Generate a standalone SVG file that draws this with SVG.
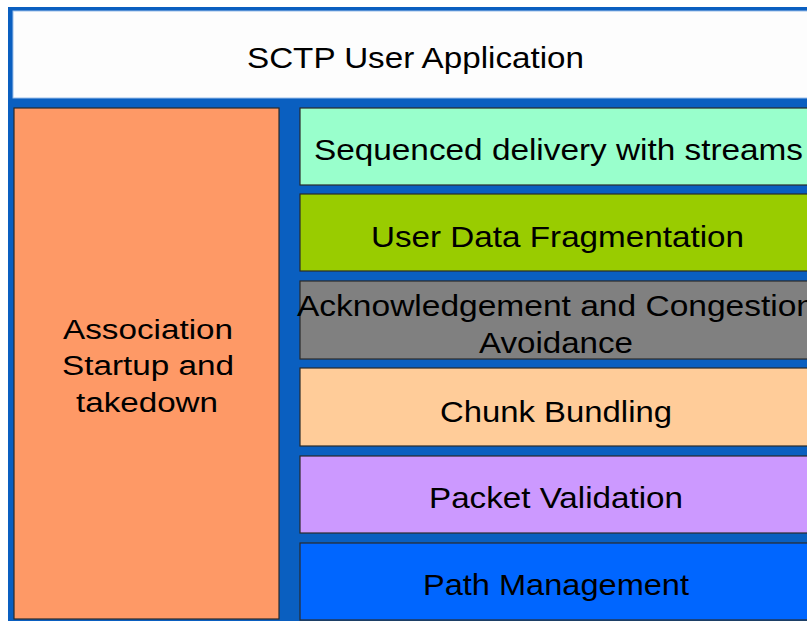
<svg xmlns="http://www.w3.org/2000/svg" width="807" height="621" viewBox="0 0 807 621">
  <style>
    .box { stroke: #2a2a2a; stroke-width: 1.2; }
    .lbl { font-family: "Liberation Sans", Arial, sans-serif; fill: #000; text-anchor: middle; }
    .big { font-size: 29px; }
    .side { font-size: 27px; }
  </style>
  <rect x="0" y="0" width="807" height="621" fill="#ffffff"/>
  <!-- blue frame -->
  <rect x="8" y="7" width="810" height="620" fill="#0A5FC0"/>

  <g id="app">
    <rect x="13" y="11" width="810" height="87" fill="#fdfdfd" stroke="#9cc0ea" stroke-width="1"/>
    <text class="lbl big" x="415.5" y="68" textLength="337" lengthAdjust="spacingAndGlyphs">SCTP User Application</text>
  </g>

  <g id="association">
    <rect class="box" x="14" y="108" width="265" height="511" fill="#FE9966"/>
    <text class="lbl side" x="148" y="339" textLength="170" lengthAdjust="spacingAndGlyphs">Association</text>
    <text class="lbl side" x="148" y="375" textLength="172" lengthAdjust="spacingAndGlyphs">Startup and</text>
    <text class="lbl side" x="147" y="412" textLength="142" lengthAdjust="spacingAndGlyphs">takedown</text>
  </g>

  <g id="sequenced">
    <rect class="box" x="300" y="108" width="520" height="77" fill="#99FFCC"/>
    <text class="lbl big" x="558.5" y="160" textLength="489" lengthAdjust="spacingAndGlyphs">Sequenced delivery with streams</text>
  </g>

  <g id="fragmentation">
    <rect class="box" x="300" y="194" width="520" height="77" fill="#99CC00"/>
    <text class="lbl big" x="557.5" y="247" textLength="373" lengthAdjust="spacingAndGlyphs">User Data Fragmentation</text>
  </g>

  <g id="ack">
    <rect class="box" x="300" y="281" width="520" height="78" fill="#808080"/>
    <text class="lbl big" x="556" y="316" textLength="518" lengthAdjust="spacingAndGlyphs">Acknowledgement and Congestion</text>
    <text class="lbl big" x="556" y="353" textLength="154" lengthAdjust="spacingAndGlyphs">Avoidance</text>
  </g>

  <g id="bundling">
    <rect class="box" x="300" y="368" width="520" height="78" fill="#FFCC99"/>
    <text class="lbl big" x="556" y="422" textLength="232" lengthAdjust="spacingAndGlyphs">Chunk Bundling</text>
  </g>

  <g id="validation">
    <rect class="box" x="300" y="456" width="520" height="77" fill="#CC99FF"/>
    <text class="lbl big" x="556" y="508" textLength="254" lengthAdjust="spacingAndGlyphs">Packet Validation</text>
  </g>

  <g id="path">
    <rect class="box" x="300" y="543" width="520" height="77" fill="#0066FF"/>
    <text class="lbl big" x="556" y="595" textLength="266" lengthAdjust="spacingAndGlyphs">Path Management</text>
  </g>

  <g id="connectors"/>
</svg>
